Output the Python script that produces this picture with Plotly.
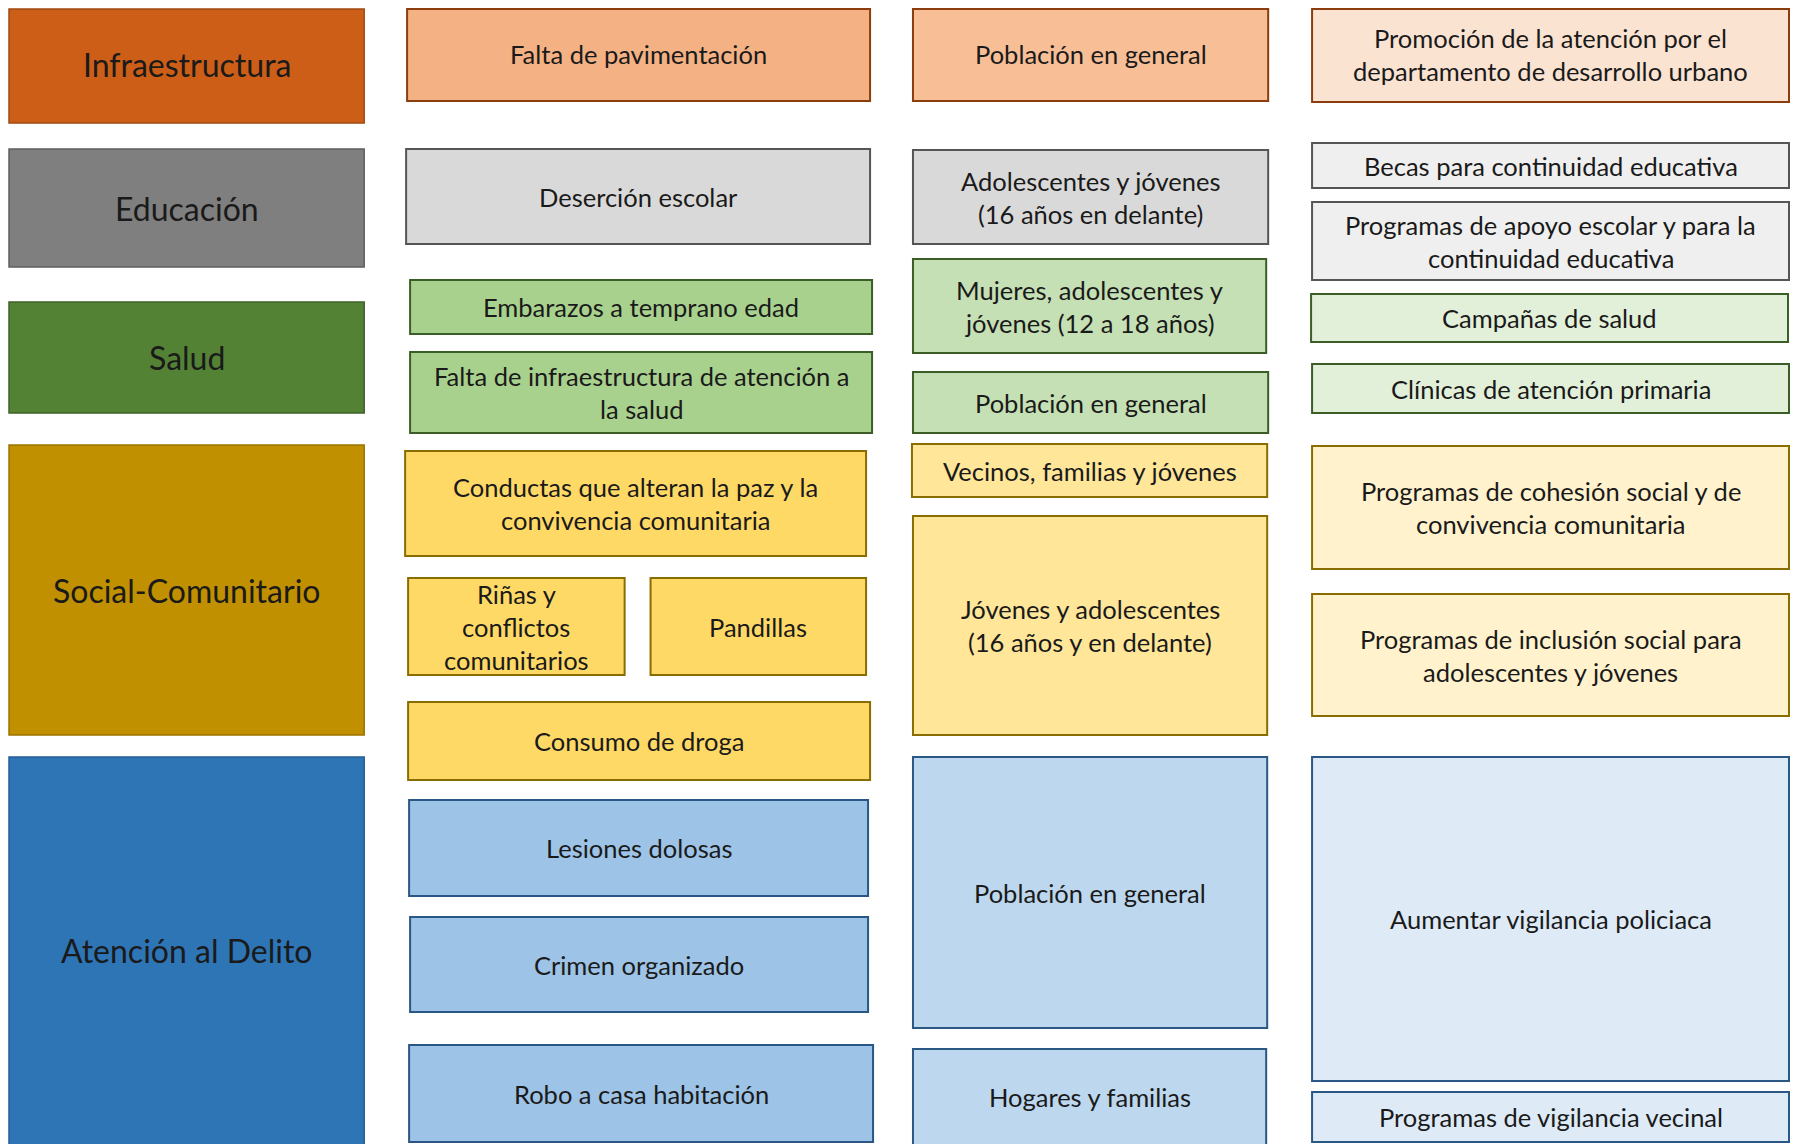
import plotly.graph_objects as go

W, H = 1799, 1144
OFF = 8  # page body margin compensation

# ---------------- data (text content) ----------------
categories = ["Infraestructura", "Educación", "Salud", "Social-Comunitario", "Atención al Delito"]

problems = [
    "Falta de pavimentación",
    "Deserción escolar",
    "Embarazos a temprano edad",
    "Falta de infraestructura de atención a|la salud",
    "Conductas que alteran la paz y la|convivencia comunitaria",
    "Riñas y|conflictos|comunitarios",
    "Pandillas",
    "Consumo de droga",
    "Lesiones dolosas",
    "Crimen organizado",
    "Robo a casa habitación",
]
problem_group = [0, 1, 2, 2, 3, 3, 3, 3, 4, 4, 4]

populations = [
    "Población en general",
    "Adolescentes y jóvenes|(16 años en delante)",
    "Mujeres, adolescentes y|jóvenes (12 a 18 años)",
    "Población en general",
    "Vecinos, familias y jóvenes",
    "Jóvenes y adolescentes|(16 años y en delante)",
    "Población en general",
    "Hogares y familias",
]
population_group = [0, 1, 2, 2, 3, 3, 4, 4]

actions = [
    "Promoción de la atención por el|departamento de desarrollo urbano",
    "Becas para continuidad educativa",
    "Programas de apoyo escolar y para la|continuidad educativa",
    "Campañas de salud",
    "Clínicas de atención primaria",
    "Programas de cohesión social y de|convivencia comunitaria",
    "Programas de inclusión social para|adolescentes y jóvenes",
    "Aumentar vigilancia policiaca",
    "Programas de vigilancia vecinal",
]
action_group = [0, 1, 1, 2, 2, 3, 3, 4, 4]

# ---------------- layout geometry (x0, x1, y0, y1 in page pixels) ----------------
category_boxes = [(9, 365, 6, 123), (9, 365, 149, 267), (9, 365, 302, 413),
                  (9, 365, 445, 735), (9, 365, 757, 1150)]
problem_boxes = [(408, 872, 6, 101), (407, 872, 149, 244), (411, 874, 280, 334),
                 (411, 874, 352, 433), (406, 868, 451, 556), (409, 626, 578, 675),
                 (652, 868, 578, 675), (409, 872, 702, 780), (410, 870, 800, 896),
                 (411, 870, 917, 1012), (410, 875, 1045, 1142)]
population_boxes = [(915, 1271, 7, 101), (915, 1271, 150, 244), (915, 1269, 259, 353),
                    (915, 1271, 372, 433), (914, 1270, 444, 497), (915, 1270, 516, 735),
                    (915, 1270, 757, 1028), (915, 1269, 1049, 1150)]
action_boxes = [(1315, 1793, 7, 102), (1315, 1793, 143, 188), (1315, 1793, 202, 280),
                (1314, 1792, 294, 342), (1315, 1793, 364, 413), (1315, 1793, 446, 569),
                (1315, 1793, 594, 716), (1315, 1793, 757, 1081), (1315, 1793, 1092, 1142)]

# ---------------- styles per group ----------------
dark_fill = ["#CD5E17", "#7F7F7F", "#548235", "#C09000", "#2E75B6"]
dark_line = ["#A04A12", "#5F5F5F", "#3E6128", "#9A7400", "#245E94"]
fill2 = ["#F4B183", "#D9D9D9", "#A9D18E", "#FFD966", "#9DC3E6"]
fill3 = ["#F8BF97", "#D9D9D9", "#C5E0B4", "#FFE699", "#BDD7EE"]
fill4 = ["#FBE3D2", "#EFEFEF", "#E2F0D9", "#FFF2CC", "#DEEBF7"]
light_line = ["#8C3D0D", "#555555", "#3B5E26", "#8A6D00", "#2A5783"]

FONT = "Lato, Carlito, Calibri, sans-serif"
LINE_GAP = 33

fig = go.Figure()
shapes = []
annotations = []


def add_box(box, fill, line, text, size, lw=2):
    x0, x1, y0, y1 = box
    shapes.append(dict(type="rect", xref="x", yref="y", x0=x0, x1=x1,
                       y0=max(y0, OFF + 1), y1=y1,
                       fillcolor=fill, line=dict(color=line, width=lw), layer="below"))
    lines = text.split("|")
    cy = (y0 + min(y1, H)) / 2
    n = len(lines)
    for i, t in enumerate(lines):
        yy = cy + (i - (n - 1) / 2) * LINE_GAP
        annotations.append(dict(x=(x0 + x1) / 2, y=yy, xref="x", yref="y", text=t,
                                showarrow=False, xanchor="center", yanchor="middle",
                                font=dict(family=FONT, size=size, color="#1A1A1A")))


for i, c in enumerate(categories):
    add_box(category_boxes[i], dark_fill[i], dark_line[i], c, 32, lw=1.5)
for i, p in enumerate(problems):
    g = problem_group[i]
    add_box(problem_boxes[i], fill2[g], light_line[g], p, 25.5)
for i, p in enumerate(populations):
    g = population_group[i]
    add_box(population_boxes[i], fill3[g], light_line[g], p, 25.5)
for i, a in enumerate(actions):
    g = action_group[i]
    add_box(action_boxes[i], fill4[g], light_line[g], a, 25.5)

fig.update_layout(
    width=W - 2 * OFF, height=H - OFF,
    margin=dict(l=0, r=0, t=0, b=0),
    paper_bgcolor="white", plot_bgcolor="white",
    xaxis=dict(range=[OFF, 1795], visible=False, fixedrange=True),
    yaxis=dict(range=[H, OFF], visible=False, fixedrange=True),
    shapes=shapes, annotations=annotations,
    showlegend=False,
)
fig.write_html("out.html")
